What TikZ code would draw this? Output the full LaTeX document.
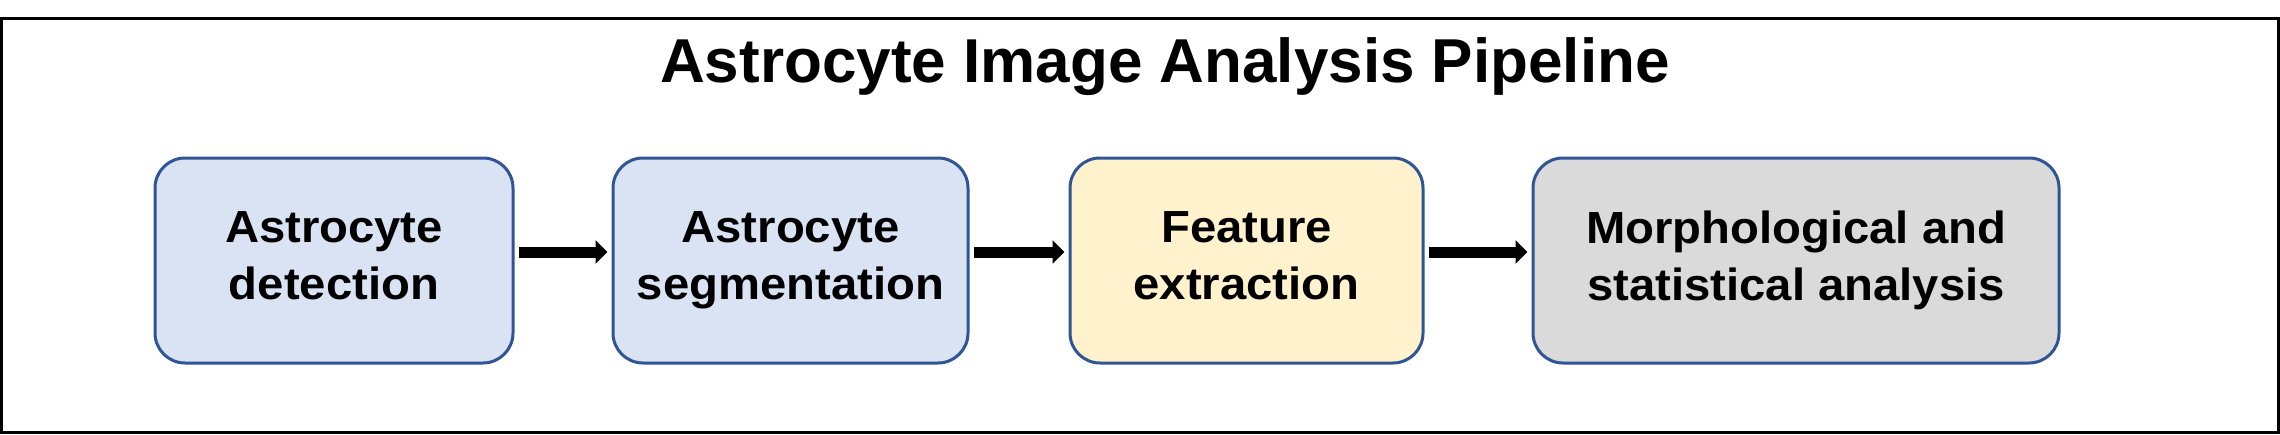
\documentclass[tikz,border=0pt]{standalone}
\usepackage{fontspec}
\setmainfont{Liberation Sans}
\newfontfamily\boxfont[FakeStretch=1.05]{Liberation Sans}
\usetikzlibrary{arrows.meta}
\definecolor{bluefill}{HTML}{DAE3F3}
\definecolor{yellowfill}{HTML}{FFF2CC}
\definecolor{grayfill}{HTML}{DADADA}
\definecolor{boxborder}{HTML}{2F5597}
\tikzset{
  stage/.style={draw=boxborder, line width=1.5pt, rounded corners=15pt,
    minimum height=102.5pt, align=center, inner sep=0pt,
    font=\boxfont\bfseries\fontsize{22.5pt}{28.5pt}\selectfont,
    execute at begin node=\rule{0pt}{20.5pt},
    execute at end node=\rule[-4.5pt]{0pt}{4.5pt}},
  flowarrow/.style={line width=5.5pt, -{Triangle[length=6pt,width=11.5pt]}},
  frame/.style={draw=black, line width=1.5pt},
  titletext/.style={font=\bfseries\fontsize{31pt}{36pt}\selectfont, inner sep=0pt}
}
\begin{document}
\begin{tikzpicture}[x=0.5pt,y=-0.5pt]
\useasboundingbox (0,0) rectangle (2280,434);
\draw[frame] (1.5,18.5) rectangle (2278.5,432.5);
\node[titletext, anchor=base] (title) at (1165,82) {Astrocyte Image Analysis Pipeline};
\node[stage, fill=bluefill, minimum width=179pt] (b1) at (334,260.5) {Astrocyte\\detection};
\node[stage, fill=bluefill, minimum width=177.5pt] (b2) at (790.5,260.5) {Astrocyte\\segmentation};
\node[stage, fill=yellowfill, minimum width=176.5pt] (b3) at (1246.5,260.5) {Feature\\extraction};
\node[stage, fill=grayfill, minimum width=263pt] (b4) at (1796,260.5) {Morphological and\\statistical analysis};
\draw[flowarrow] ([xshift=2pt,yshift=4.25pt]b1.east) -- ([xshift=-2pt,yshift=4.25pt]b2.west);
\draw[flowarrow] ([xshift=2pt,yshift=4.25pt]b2.east) -- ([xshift=-2pt,yshift=4.25pt]b3.west);
\draw[flowarrow] ([xshift=2pt,yshift=4.25pt]b3.east) -- ([xshift=-2pt,yshift=4.25pt]b4.west);
\end{tikzpicture}
\end{document}
